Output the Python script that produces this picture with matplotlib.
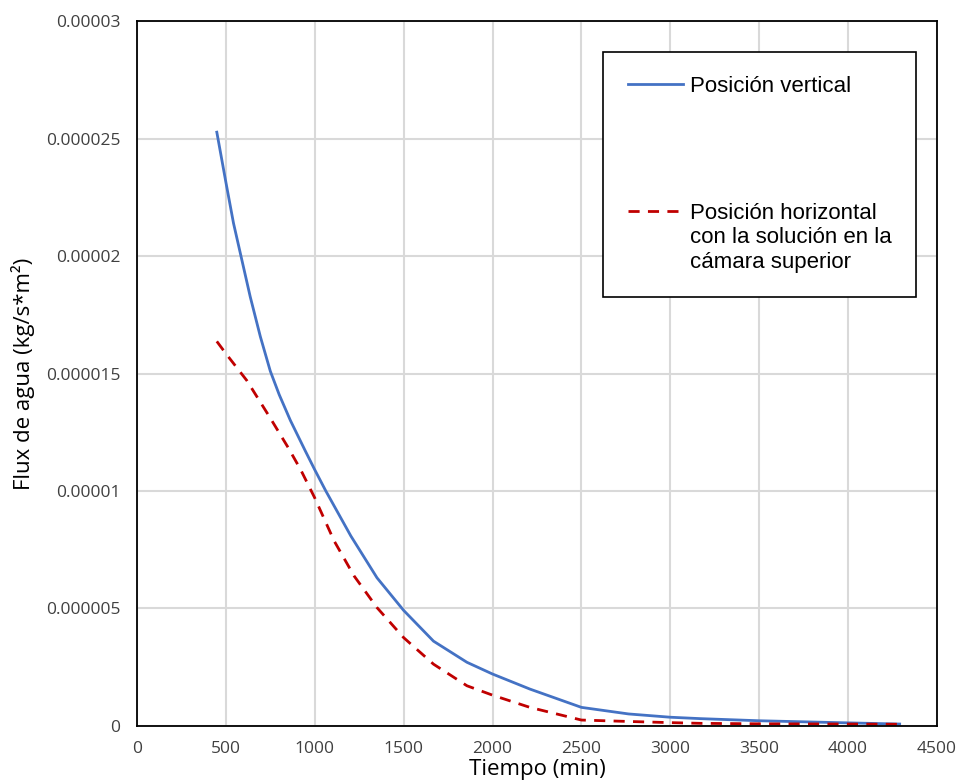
import matplotlib
matplotlib.use('Agg')
import matplotlib.pyplot as plt
import numpy as np
from matplotlib.legend_handler import HandlerLine2D

# Data (time in min, flux in 1e-6 kg/s*m2)
t_vertical = [449, 500, 543, 585, 637, 694, 750, 800, 863, 947, 1000, 1062, 1203, 1350,
              1500, 1668, 1856, 2000, 2210, 2500, 2765, 3000, 3170, 3500, 4000, 4290]
flux_vertical = [25.28, 23.15, 21.4, 20.0, 18.27, 16.57, 15.1, 14.1, 13.0, 11.7, 10.9, 10.0, 8.08, 6.3,
                 4.91, 3.6, 2.7, 2.2, 1.56, 0.78, 0.5, 0.36, 0.3, 0.21, 0.12, 0.07]

t_horizontal = [449, 500, 618, 750, 850, 921, 1000, 1109, 1221, 1350, 1500, 1668, 1856, 2000,
                2210, 2500, 2765, 3000, 3170, 3500, 4000, 4290]
flux_horizontal = [16.37, 15.85, 14.7, 13.1, 11.85, 10.9, 9.7, 7.87, 6.38, 5.03, 3.75, 2.62, 1.7, 1.3,
                   0.78, 0.24, 0.18, 0.13, 0.1, 0.08, 0.07, 0.06]

label_vertical = 'Posición vertical'
label_horizontal = 'Posición horizontal\ncon la solución en la\ncámara superior'

xticks = [0, 500, 1000, 1500, 2000, 2500, 3000, 3500, 4000, 4500]
yticks = [0, 0.000005, 0.00001, 0.000015, 0.00002, 0.000025, 0.00003]
ytick_labels = ['0', '0.000005', '0.00001', '0.000015', '0.00002', '0.000025', '0.00003']

LEG_SIZE = 16
LEG_LINESPACING = 1.22


class FirstLineHandler(HandlerLine2D):
    # put the legend line next to the first line of a multi-line label
    def create_artists(self, legend, orig_handle, xdescent, ydescent, width, height, fontsize, trans):
        artists = super().create_artists(legend, orig_handle, xdescent, ydescent,
                                         width, height, fontsize, trans)
        for a in artists:
            a.set_ydata(np.asarray(a.get_ydata()) + LEG_LINESPACING * fontsize)
        return artists


fig = plt.figure(figsize=(9.62, 7.83), dpi=100)
ax = fig.add_axes([0.1424, 0.0732, 0.8316, 0.8995])

ax.plot(t_vertical, np.array(flux_vertical) * 1e-6, color='#4472C4', lw=2.0,
        label=label_vertical)
red, = ax.plot(t_horizontal, np.array(flux_horizontal) * 1e-6, color='#C00000', lw=2.0,
               dashes=(4, 3), label=label_horizontal)

ax.set_xlim(0, 4500)
ax.set_ylim(0, 0.00003)
ax.set_xticks(xticks)
ax.set_yticks(yticks)
ax.set_yticklabels(ytick_labels)
ax.tick_params(length=0, labelsize=12.5, colors='#404040')
ax.tick_params(axis='y', pad=12)
ax.tick_params(axis='x', pad=11)
for lab in ax.get_xticklabels() + ax.get_yticklabels():
    lab.set_fontfamily('Open Sans')

ax.grid(True, color='#d9d9d9', lw=1.5)
ax.set_axisbelow(True)
for sp in ax.spines.values():
    sp.set_color('black')
    sp.set_linewidth(1.3)

ax.set_xlabel('Tiempo (min)', fontsize=16, fontfamily='Open Sans')
ax.xaxis.set_label_coords(0.5, -0.047)
ax.set_ylabel('Flux de agua (kg/s*m²)', fontsize=16, fontfamily='Open Sans')
ax.yaxis.set_label_coords(-0.128, 0.5)

leg = ax.legend(loc='upper right', bbox_to_anchor=(0.974, 0.957), borderaxespad=0,
                prop={'family': 'Liberation Sans', 'size': LEG_SIZE},
                frameon=True, fancybox=False, edgecolor='black', framealpha=1,
                labelspacing=4.75, handlelength=2.48, handletextpad=0.32, borderpad=1.1,
                handler_map={red: FirstLineHandler()})
leg.get_frame().set_linewidth(1.2)
for txt in leg.get_texts():
    txt.set_linespacing(LEG_LINESPACING)

fig.savefig('out.png', dpi=100)
